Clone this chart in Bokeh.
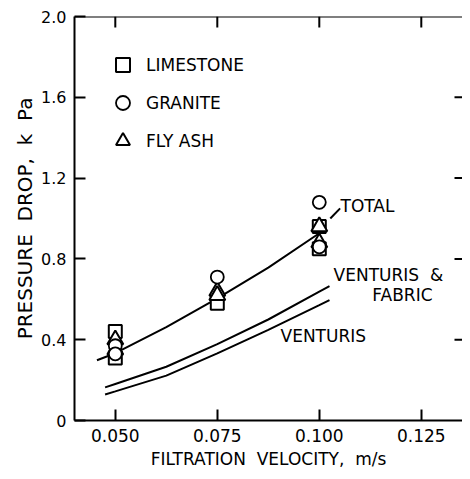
from bokeh.plotting import figure
from bokeh.models import (Range1d, FixedTicker, LinearAxis, Legend, LegendItem,
                          ColumnDataSource, Span)
from bokeh.core.properties import value
from bokeh.embed import file_html
from bokeh.resources import INLINE

NB = "\u00a0"

# ---- data ----
limestone_x = [0.050, 0.050, 0.075, 0.100, 0.100]
limestone_y = [0.44, 0.31, 0.58, 0.96, 0.85]
granite_x = [0.050, 0.050, 0.075, 0.100, 0.100]
granite_y = [0.37, 0.33, 0.71, 1.08, 0.86]
flyash_x = [0.050, 0.050, 0.075, 0.075, 0.100, 0.100]
flyash_y = [0.40, 0.35, 0.64, 0.62, 0.96, 0.88]

total_x = [0.0455, 0.050, 0.0625, 0.075, 0.0875, 0.100]
total_y = [0.298, 0.333, 0.462, 0.605, 0.757, 0.927]
vf_x = [0.0475, 0.050, 0.0625, 0.075, 0.0875, 0.100, 0.1025]
vf_y = [0.164, 0.181, 0.266, 0.378, 0.500, 0.638, 0.665]
v_x = [0.0475, 0.050, 0.0625, 0.075, 0.0875, 0.100, 0.1025]
v_y = [0.129, 0.144, 0.222, 0.332, 0.449, 0.571, 0.596]

leader_x = [0.1027, 0.1051]
leader_y = [1.00, 1.05]

label_text = ["TOTAL", "VENTURIS" + NB + NB + "&", "FABRIC", "VENTURIS"]
label_x = [0.1052, 0.1035, 0.1130, 0.0905]
label_y = [1.064, 0.718, 0.619, 0.416]

x_ticks = [0.050, 0.075, 0.100, 0.125]
x_tick_labels = ["0.050", "0.075", "0.100", "0.125"]
y_ticks = [0.0, 0.4, 0.8, 1.2, 1.6, 2.0]
y_tick_labels = ["0", "0.4", "0.8", "1.2", "1.6", "2.0"]
right_ticks = [0.4, 0.8, 1.2, 1.6]

X0, X1 = 0.040, 0.1351
Y0, Y1 = 0.0, 2.0
FONT = "DejaVu Sans"

p = figure(width=462, height=471, output_backend="svg", toolbar_location=None,
           x_range=Range1d(X0, X1), y_range=Range1d(Y0, Y1),
           x_axis_location=None, y_axis_location=None,
           min_border_left=74, min_border_top=16, min_border_bottom=51,
           min_border_right=0)
p.outline_line_color = None
p.grid.visible = False
p.background_fill_color = "white"
p.border_fill_color = "white"


def style_axis(ax, ticks, labels, size):
    ax.ticker = FixedTicker(ticks=ticks)
    ax.major_label_overrides = {t: l for t, l in zip(ticks, labels)}
    ax.major_tick_in = 11
    ax.major_tick_out = 0
    ax.minor_tick_in = 0
    ax.minor_tick_out = 0
    ax.major_tick_line_width = 2
    ax.major_tick_line_color = "black"
    ax.axis_line_width = 2
    ax.axis_line_color = "black"
    ax.major_label_text_font = FONT
    ax.major_label_text_font_size = size
    ax.major_label_text_color = "black"
    ax.axis_label_text_font = FONT
    ax.axis_label_text_font_style = "normal"
    ax.axis_label_text_color = "black"


left = LinearAxis()
style_axis(left, y_ticks, y_tick_labels, "16px")
left.axis_label = "PRESSURE" + NB + NB + "DROP," + NB + NB + "k" + NB + NB + "Pa"
left.axis_label_text_font_size = "20px"
left.axis_label_standoff = 1
left.major_label_standoff = 8
p.add_layout(left, "left")

bottom = LinearAxis()
style_axis(bottom, x_ticks, x_tick_labels, "17px")
bottom.axis_label = "FILTRATION" + NB + NB + "VELOCITY," + NB + NB + "m/s"
bottom.axis_label_text_font_size = "17px"
bottom.axis_label_standoff = 4
bottom.major_label_standoff = 8
p.add_layout(bottom, "below")

# top frame edge with inward ticks, right-side inward ticks
p.add_layout(Span(location=Y1, dimension="width", line_color="black", line_width=2))
p.segment(x0=x_ticks, y0=[Y1] * len(x_ticks), x1=x_ticks,
          y1=[Y1 - 11 / 202] * len(x_ticks), line_color="black", line_width=2)
p.segment(x0=[X1 - 8 / 4080] * len(right_ticks), y0=right_ticks,
          x1=[X1] * len(right_ticks), y1=right_ticks,
          line_color="black", line_width=2)

# curves
p.line(total_x, total_y, line_color="black", line_width=2)
p.line(vf_x, vf_y, line_color="black", line_width=2)
p.line(v_x, v_y, line_color="black", line_width=2)
p.line(leader_x, leader_y, line_color="black", line_width=2)

# markers
r_lime = p.scatter(limestone_x, limestone_y, marker="square", size=13,
                   line_color="black", line_width=2, fill_color="white")
r_fly = p.scatter(flyash_x, flyash_y, marker="triangle", size=16,
                  line_color="black", line_width=2, fill_color="white")
r_gran = p.scatter(granite_x, granite_y, marker="circle", size=13,
                   line_color="black", line_width=1.8, fill_color="white")

# annotations
src = ColumnDataSource(dict(x=label_x, y=label_y, t=label_text))
p.text(x="x", y="y", text="t", source=src, text_font=value(FONT),
       text_font_size="17px", text_baseline="middle", text_align="left",
       text_color="black")

legend = Legend(items=[LegendItem(label="LIMESTONE", renderers=[r_lime]),
                       LegendItem(label="GRANITE", renderers=[r_gran]),
                       LegendItem(label="FLY ASH", renderers=[r_fly])],
                location="top_left")
legend.border_line_color = None
legend.background_fill_alpha = 0
legend.margin = 31
legend.padding = 9
legend.glyph_width = 35
legend.glyph_height = 35
legend.label_height = 35
legend.spacing = 3
legend.label_standoff = 6
legend.label_text_font = FONT
legend.label_text_font_size = "17px"
legend.label_text_color = "black"
p.add_layout(legend, "center")

open("out.html", "w").write(file_html(p, INLINE))
